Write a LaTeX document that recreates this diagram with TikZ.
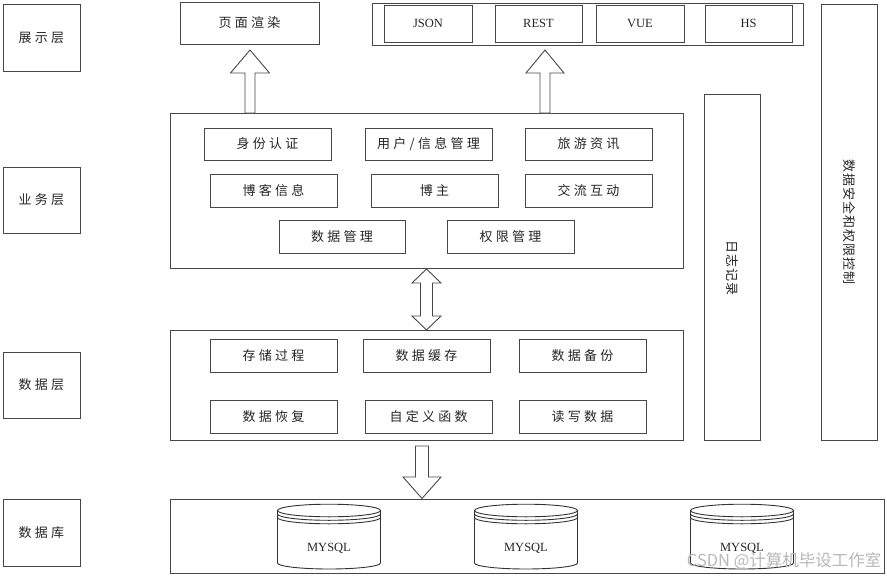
\documentclass[tikz,border=0pt]{standalone}
\usepackage{fontspec}
\setmainfont{Liberation Serif}
\newfontfamily\cjk[LetterSpace=25]{Noto Sans CJK SC}
\newfontfamily\vcjk[LetterSpace=8]{Noto Sans CJK SC}
\newfontfamily\wmfont{Noto Sans CJK SC}
\usetikzlibrary{calc}
% \mybox[style]{name}{x1}{y1}{x2}{y2}{text}
\newcommand\mybox[7][]{%
  \node[box,#1,minimum width={(#5)-(#3)},minimum height={(#6)-(#4)}]
    (#2) at ({((#3)+(#5))/2},{((#4)+(#6))/2}) {#7};}
\begin{document}
\begin{tikzpicture}[x=1pt,y=-1pt,
  box/.style={draw=black!72,line width=0.9pt,inner sep=0pt,outer sep=0pt,
    font=\cjk\fontsize{13}{15}\selectfont,text=black!85},
  latin/.style={font=\rmfamily\fontsize{12.5}{14}\selectfont},
  blockarrow/.style={draw=black!72,line width=0.9pt,fill=white,line join=miter},
  cyl/.style={draw=black!80,line width=0.9pt}]
\useasboundingbox (0,0) rectangle (887,576);
\fill[white] (0,0) rectangle (887,576);

% layer labels
\mybox{L1}{3}{4}{80}{71}{展示层}
\mybox{L2}{3}{167}{80}{233}{业务层}
\mybox{L3}{3}{352}{80}{418}{数据层}
\mybox{L4}{3}{499}{80}{566}{数据库}

% presentation layer
\mybox{render}{180}{2}{319}{44}{页面渲染}
\mybox{tech}{372}{3}{803}{45}{}
\mybox[latin]{json}{384}{5}{472}{42}{JSON}
\mybox[latin]{rest}{495}{5}{582}{42}{REST}
\mybox[latin]{vue}{596}{5}{684}{42}{VUE}
\mybox[latin]{hs}{705}{5}{792}{42}{HS}

% side columns
\mybox{security}{821}{4}{877}{440}{}
\node[rotate=-90,font=\vcjk\fontsize{13}{15}\selectfont,text=black!85] (seclabel) at (security.center) {数据安全和权限控制};
\mybox{log}{704}{94}{760}{440}{}
\node[rotate=-90,font=\vcjk\fontsize{13}{15}\selectfont,text=black!85] (loglabel) at ($(log.center)+(0,1)$) {日志记录};

% business layer
\mybox{biz}{170}{113}{683}{268}{}
\mybox{b1}{204}{128}{331}{160}{身份认证}
\mybox{b2}{365}{128}{492}{160}{用户/信息管理}
\mybox{b3}{525}{128}{652}{160}{旅游资讯}
\mybox{b4}{210}{174}{337}{207}{博客信息}
\mybox{b5}{371}{174}{498}{207}{博主}
\mybox{b6}{525}{174}{652}{207}{交流互动}
\mybox{b7}{279}{220}{405}{253}{数据管理}
\mybox{b8}{447}{220}{574}{253}{权限管理}

% data layer
\mybox{data}{170}{330}{683}{440}{}
\mybox{d1}{210}{339}{337}{372}{存储过程}
\mybox{d2}{363}{339}{490}{372}{数据缓存}
\mybox{d3}{519}{339}{646}{372}{数据备份}
\mybox{d4}{210}{400}{337}{433}{数据恢复}
\mybox{d5}{365}{400}{492}{433}{自定义函数}
\mybox{d6}{519}{400}{646}{433}{读写数据}

% database
\mybox{db}{170}{499}{884}{573}{}

% block arrows
\draw[blockarrow] (245,113) -- (245,73) -- (230.5,73) -- (250,50) -- (269.5,73) -- (255,73) -- (255,113) -- cycle;
\draw[blockarrow] (540,113) -- (540,73) -- (526,73) -- (545,50) -- (564,73) -- (550,73) -- (550,113) -- cycle;
\draw[blockarrow] (426.5,269) -- (441,283) -- (432.5,283) -- (432.5,316) -- (441,316) -- (426.5,330)
  -- (412,316) -- (420.5,316) -- (420.5,283) -- (412,283) -- cycle;
\draw[blockarrow] (415.5,446) -- (428.5,446) -- (428.5,477) -- (441,477) -- (422,498.5)
  -- (403,477) -- (415.5,477) -- cycle;

% cylinders
\foreach \cx/\nm in {329/c1,526/c2,742/c3}{
  \fill[white] ({\cx-51.5},510.5) -- ({\cx-51.5},563) arc[start angle=180,end angle=360,x radius=51.5pt,y radius=6pt]
     -- ({\cx+51.5},510.5) -- cycle;
  \draw[cyl] ({\cx-51.5},510.5) -- ({\cx-51.5},563)
     arc[start angle=180,end angle=360,x radius=51.5pt,y radius=6pt] -- ({\cx+51.5},510.5);
  \draw[cyl,fill=white] (\cx,510.5) ellipse [x radius=51.5pt,y radius=6.3pt];
  \draw[cyl] ({\cx-51.5},514) arc[start angle=180,end angle=360,x radius=51.5pt,y radius=6.3pt];
  \draw[cyl] ({\cx-51.5},517.5) arc[start angle=180,end angle=360,x radius=51.5pt,y radius=6.3pt];
  \node[latin,text=black!85] (\nm) at (\cx,548.5) {MYSQL};
}

% watermark
\node[font=\wmfont\fontsize{16.5}{18}\selectfont,text=black!28,anchor=east] (wm) at (885,561) {CSDN @计算机毕设工作室};
\end{tikzpicture}
\end{document}
